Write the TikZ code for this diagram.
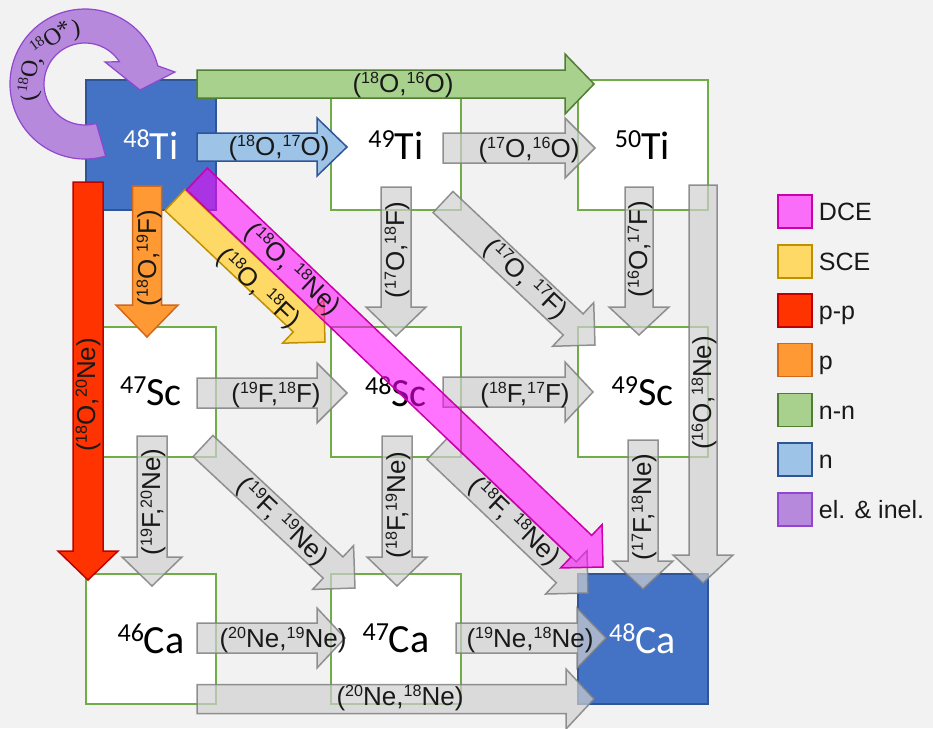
\documentclass[tikz,border=0pt]{standalone}
\usepackage{fontspec}
\setmainfont{Liberation Sans}
\newfontfamily\boxfont{Carlito}
\newfontfamily\serfont{Liberation Serif}
\usetikzlibrary{calc}
\definecolor{bg}{HTML}{F2F2F2}
\definecolor{boxgreen}{HTML}{70AD47}
\definecolor{tiblue}{HTML}{4472C4}
\definecolor{tiblueb}{HTML}{2F5597}
\definecolor{redf}{HTML}{FF3300}
\definecolor{redb}{HTML}{C00000}
\definecolor{orf}{HTML}{FF9933}
\definecolor{orb}{HTML}{D0691C}
\definecolor{yef}{HTML}{FFD966}
\definecolor{yeb}{HTML}{BF9000}
\definecolor{grf}{HTML}{A9D18E}
\definecolor{grb}{HTML}{507E32}
\definecolor{lbf}{HTML}{9DC3E6}
\definecolor{lbb}{HTML}{2F5597}
\definecolor{puf}{HTML}{B689DD}
\definecolor{pub}{HTML}{9146CF}
\definecolor{mgf}{HTML}{FF00FF}
\definecolor{mgb}{HTML}{CC00AA}
\definecolor{gyf}{HTML}{D0D0D0}
\definecolor{gyb}{HTML}{808080}
\newcommand\su[1]{\raisebox{0.32em}{\scalebox{0.62}{#1}}}
\newcommand\sub[1]{\raisebox{0.3em}{\scalebox{0.65}{#1}}}
\newcommand\barrow[6]{%
  \path ($(#3)!#6!(#2)$) coordinate (hb);
  \draw[#1] ($(#2)!#4!90:(#3)$) -- ($(hb)!#4!90:(#3)$) -- ($(hb)!#5!90:(#3)$) -- (#3)
    -- ($(hb)!#5!-90:(#3)$) -- ($(hb)!#4!-90:(#3)$) -- ($(#2)!#4!-90:(#3)$) -- cycle;
}
\begin{document}
\begin{tikzpicture}[x=1pt,y=-1pt,
  nbox/.style={draw=boxgreen,line width=2pt,fill=white,minimum size=130pt,inner sep=0pt,
    font=\boxfont\fontsize{40}{42}\selectfont},
  bluebox/.style={nbox,fill=tiblue,draw=tiblueb,text=white},
  grayarr/.style={fill=gyf,fill opacity=0.7,draw=gyb,draw opacity=0.85,line width=1.5pt},
  redarr/.style={fill=redf,draw=redb,line width=1.5pt},
  orarr/.style={fill=orf,draw=orb,line width=1.5pt},
  yearr/.style={fill=yef,draw=yeb,line width=1.5pt},
  grarr/.style={fill=grf,draw=grb,line width=1.5pt},
  lbarr/.style={fill=lbf,draw=lbb,line width=1.5pt},
  mgarr/.style={fill=mgf,fill opacity=0.55,draw=mgb,line width=1.5pt},
  puarr/.style={fill=puf,draw=pub,line width=1.2pt},
  alabel/.style={inner sep=0pt,text=black!90,font=\fontsize{26}{28}\selectfont},
  plabel/.style={inner sep=0pt,text=black!90,font=\serfont\fontsize{24}{26}\selectfont},
  legbox/.style={minimum width=34pt,minimum height=33pt,inner sep=0pt,line width=1.5pt},
  legtext/.style={inner sep=0pt,anchor=base west,text=black!90,font=\fontsize{25}{27}\selectfont}
]
\fill[bg] (0,0) rectangle (933,728);
\useasboundingbox (0,0) rectangle (933,728);

% nuclei boxes
\node[bluebox] (n48Ti) at (151,145) {\sub{48}Ti};
\node[nbox] (n49Ti) at (396,145) {\sub{49}Ti};
\node[nbox] (n50Ti) at (642.5,145) {\sub{50}Ti};
\node[nbox] (n47Sc) at (151,391.5) {\sub{47}Sc};
\node[nbox] (n48Sc) at (396,391.5) {\sub{48}Sc};
\node[nbox] (n49Sc) at (642.5,391.5) {\sub{49}Sc};
\node[nbox] (n46Ca) at (151,638.5) {\sub{46}Ca};
\node[nbox] (n47Ca) at (396,638.5) {\sub{47}Ca};
\node[bluebox] (n48Ca) at (642.5,638.5) {\sub{48}Ca};

% arrow end points
\coordinate (rA) at (88,182);   \coordinate (rB) at (88,580);
\coordinate (oA) at (147,186);  \coordinate (oB) at (147,337);
\coordinate (gA) at (197,84);   \coordinate (gB) at (594,84);
\coordinate (bA) at (197,147);  \coordinate (bB) at (347,147);
\coordinate (yA) at (175,200);  \coordinate (yB) at (325,342);
\coordinate (mA) at (197,179);  \coordinate (mB) at (603,567);
\coordinate (h1A) at (443,148); \coordinate (h1B) at (595,148);
\coordinate (h2A) at (197,393); \coordinate (h2B) at (347,393);
\coordinate (h3A) at (443,392); \coordinate (h3B) at (593,392);
\coordinate (h4A) at (197,638); \coordinate (h4B) at (345,638);
\coordinate (h5A) at (456,638); \coordinate (h5B) at (606,638);
\coordinate (h6A) at (197,699); \coordinate (h6B) at (594,699);
\coordinate (v1A) at (396,187); \coordinate (v1B) at (396,336);
\coordinate (v2A) at (639,187); \coordinate (v2B) at (639,335);
\coordinate (v3A) at (703,185); \coordinate (v3B) at (703,583);
\coordinate (v4A) at (643,440); \coordinate (v4B) at (643,589);
\coordinate (v5A) at (152,436); \coordinate (v5B) at (152,586);
\coordinate (v6A) at (397,436); \coordinate (v6B) at (397,586);
\coordinate (d1A) at (443,202); \coordinate (d1B) at (595,345);
\coordinate (d2A) at (203,446); \coordinate (d2B) at (355,588);
\coordinate (d3A) at (437,449); \coordinate (d3B) at (588,593);

% purple self loop (el. & inel.)
\draw[puarr] (85,84) ++(74:75) arc[start angle=74,end angle=346,radius=75]
  -- (175,72) -- (140,90) -- (105,62) -- ($(85,84)+(327:41)$)
  arc[start angle=327,end angle=74,radius=41] -- cycle;
\foreach \a/\t [count=\k] in {166.2/{(}, 187.3/{\su{18}O}, 207.4/{,}, 233.7/{\su{18}O*}, 261/{)}}
  \node[plabel,anchor=base,rotate={-\a-90}] (pl\k) at ($(85,84)+(\a:49)$) {\t};

% coloured arrows
\barrow{grarr}{gA}{gB}{14pt}{30pt}{29pt}
\barrow{lbarr}{bA}{bB}{14pt}{29pt}{30pt}
\barrow{redarr}{rA}{rB}{15pt}{30pt}{29pt}
\barrow{orarr}{oA}{oB}{14.5pt}{31pt}{32pt}
\barrow{yearr}{yA}{yB}{14.5pt}{30pt}{30pt}

% grey arrows
\barrow{grayarr}{h1A}{h1B}{15pt}{30pt}{30pt}
\barrow{grayarr}{h2A}{h2B}{15pt}{30pt}{30pt}
\barrow{grayarr}{h3A}{h3B}{15pt}{30pt}{28pt}
\barrow{grayarr}{h4A}{h4B}{15pt}{30pt}{28pt}
\barrow{grayarr}{h5A}{h5B}{15pt}{30pt}{29pt}
\barrow{grayarr}{h6A}{h6B}{14.5pt}{30pt}{28pt}
\barrow{grayarr}{v1A}{v1B}{15pt}{30pt}{29pt}
\barrow{grayarr}{v2A}{v2B}{14pt}{30pt}{28pt}
\barrow{grayarr}{v3A}{v3B}{14pt}{30pt}{28pt}
\barrow{grayarr}{v4A}{v4B}{15pt}{30pt}{28pt}
\barrow{grayarr}{v5A}{v5B}{15pt}{30pt}{29pt}
\barrow{grayarr}{v6A}{v6B}{15pt}{30pt}{29pt}
\barrow{grayarr}{d1A}{d1B}{14.5pt}{30pt}{30pt}
\barrow{grayarr}{d2A}{d2B}{14.5pt}{30pt}{30pt}
\barrow{grayarr}{d3A}{d3B}{14.5pt}{30pt}{30pt}

% DCE arrow
\barrow{mgarr}{mA}{mB}{15pt}{30pt}{30pt}

% labels
\node[alabel] (lg) at (403,85) {(\su{18}O,\su{16}O)};
\node[alabel] (lb) at (279,148) {(\su{18}O,\su{17}O)};
\node[alabel] (lh1) at (529,150) {(\su{17}O,\su{16}O)};
\node[alabel] (lh2) at (276,395) {(\su{19}F,\su{18}F)};
\node[alabel] (lh3) at (525,395) {(\su{18}F,\su{17}F)};
\node[alabel] (lh4) at (283,640) {(\su{20}Ne,\su{19}Ne)};
\node[alabel] (lh5) at (530,640) {(\su{19}Ne,\su{18}Ne)};
\node[alabel] (lh6) at (400,698) {(\su{20}Ne,\su{18}Ne)};
\node[alabel,rotate=90] (lr) at (88,395) {(\su{18}O,\su{20}Ne)};
\node[alabel,rotate=90] (lo) at (149,258) {(\su{18}O,\su{19}F)};
\node[alabel,rotate=90] (lv1) at (397,250) {(\su{17}O,\su{18}F)};
\node[alabel,rotate=90] (lv2) at (640,249) {(\su{16}O,\su{17}F)};
\node[alabel,rotate=90] (lv3) at (704,393) {(\su{16}O,\su{18}Ne)};
\node[alabel,rotate=90] (lv4) at (644,507) {(\su{17}F,\su{18}Ne)};
\node[alabel,rotate=90] (lv5) at (153,502) {(\su{19}F,\su{20}Ne)};
\node[alabel,rotate=90] (lv6) at (398,505) {(\su{18}F,\su{19}Ne)};
\node[alabel,rotate=-43.5] (ly) at (258,289) {(\su{18}O, \su{18}F)};
\node[alabel,rotate=-43.5] (lm) at (292,270) {(\su{18}O, \su{18}Ne)};
\node[alabel,rotate=-43.5] (ld1) at (525,280) {(\su{17}O, \su{17}F)};
\node[alabel,rotate=-43.5] (ld2) at (282,522) {(\su{19}F, \su{19}Ne)};
\node[alabel,rotate=-43.5] (ld3) at (514,522) {(\su{18}F, \su{18}Ne)};

% legend
\node[legbox,fill=mgf,fill opacity=0.55,draw=mgb,draw opacity=1] (k1) at (795,211.5) {};
\node[legbox,fill=yef,draw=yeb] (k2) at (795,261.5) {};
\node[legbox,fill=redf,draw=redb] (k3) at (795,310.5) {};
\node[legbox,fill=orf,draw=orb] (k4) at (795,360) {};
\node[legbox,fill=grf,draw=grb] (k5) at (795,410) {};
\node[legbox,fill=lbf,draw=lbb] (k6) at (795,459.5) {};
\node[legbox,fill=puf,draw=pub] (k7) at (795,509.5) {};
\node[legtext] (t1) at ($(k1.east)+(6,9)$) {DCE};
\node[legtext] (t2) at ($(k2.east)+(6,9)$) {SCE};
\node[legtext] (t3) at ($(k3.east)+(6,9)$) {p-p};
\node[legtext] (t4) at ($(k4.east)+(6,9)$) {p};
\node[legtext] (t5) at ($(k5.east)+(6,9)$) {n-n};
\node[legtext] (t6) at ($(k6.east)+(6,9)$) {n};
\node[legtext] (t7) at ($(k7.east)+(6,9)$) {el. \& inel.};
\end{tikzpicture}
\end{document}
